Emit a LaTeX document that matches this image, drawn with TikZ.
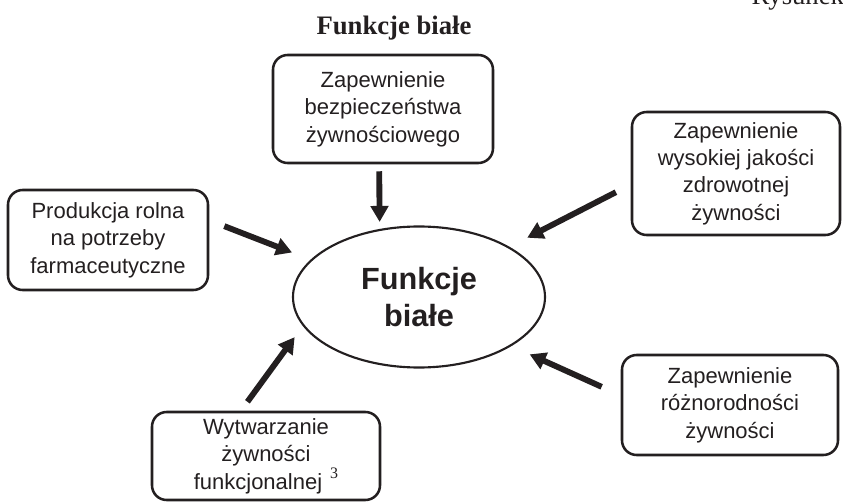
\documentclass[tikz,border=0pt]{standalone}
\usepackage{fontspec}
\setmainfont{Liberation Serif}
\setsansfont{Liberation Sans}
\usetikzlibrary{arrows.meta,shapes.geometric}
\definecolor{ink}{HTML}{231F20}
\tikzstyle{box}=[
	rectangle,
	rounded corners=11pt,
	draw=ink,
	line width=1.9pt,
	inner sep=0pt,
	align=center,
	text=ink,
	font=\sffamily\fontsize{16.5}{20.5}\selectfont
]
\tikzstyle{hub}=[
	ellipse,
	draw=ink,
	line width=1.6pt,
	inner sep=0pt,
	minimum width=189pt,
	minimum height=105.75pt,
	align=center,
	text=ink,
	font=\sffamily\bfseries\fontsize{23}{28}\selectfont
]
\tikzstyle{feed}=[
	-{Triangle[length=12pt,width=13pt]},
	line width=4.4pt,
	draw=ink
]
\tikzstyle{heading}=[
	anchor=base,
	text=ink,
	font=\rmfamily\fontsize{20}{20}\selectfont
]

\begin{document}
\begin{tikzpicture}[x=0.75pt,y=-0.75pt]
\useasboundingbox (0,0) rectangle (843,502);
\node [heading, anchor=base west] (fig) at (747,5) {Rysunek};
\node [heading, font=\rmfamily\bfseries\fontsize{20}{20}\selectfont] (title) at (394,35) {Funkcje białe};
\node [hub] (main) at (419,297) {Funkcje\\białe};
\node [box, minimum width=165pt, minimum height=81pt] (zap) at (383,109)
	{Zapewnienie\\bezpieczeństwa\\żywnościowego};
\node [box, minimum width=156pt, minimum height=92.25pt] (jak) at (736,173.5)
	{Zapewnienie\\wysokiej jakości\\zdrowotnej\\żywności};
\node [box, minimum width=150pt, minimum height=75pt] (far) at (108,240)
	{Produkcja rolna\\na potrzeby\\farmaceutyczne};
\node [box, minimum width=171pt, minimum height=66pt] (fun) at (266,456)
	{Wytwarzanie\\żywności\\funkcjonalnej\hspace{6pt}\raisebox{8pt}{\rmfamily\fontsize{12}{12}\selectfont 3}};
\node [box, minimum width=162pt, minimum height=75pt] (roz) at (730,405)
	{Zapewnienie\\różnorodności\\żywności};
% arrows into the ellipse
\draw [feed, shorten <=5.25pt, shorten >=5.25pt] (zap.266.8) -- (main.120.2);
\draw [feed, shorten <=12.5pt, shorten >=14.9pt] (jak.186.7) -- (main.29.7);
\draw [feed, shorten <=12.1pt, shorten >=14.9pt] (far.11.2) -- (main.161.1);
\draw [feed, shorten <=8.3pt, shorten >=10.35pt] (fun.119.1) -- (main.194.1);
\draw [feed, shorten <=15.7pt, shorten >=15pt] (roz.175.1) -- (main.332.9);
\end{tikzpicture}
\end{document}
